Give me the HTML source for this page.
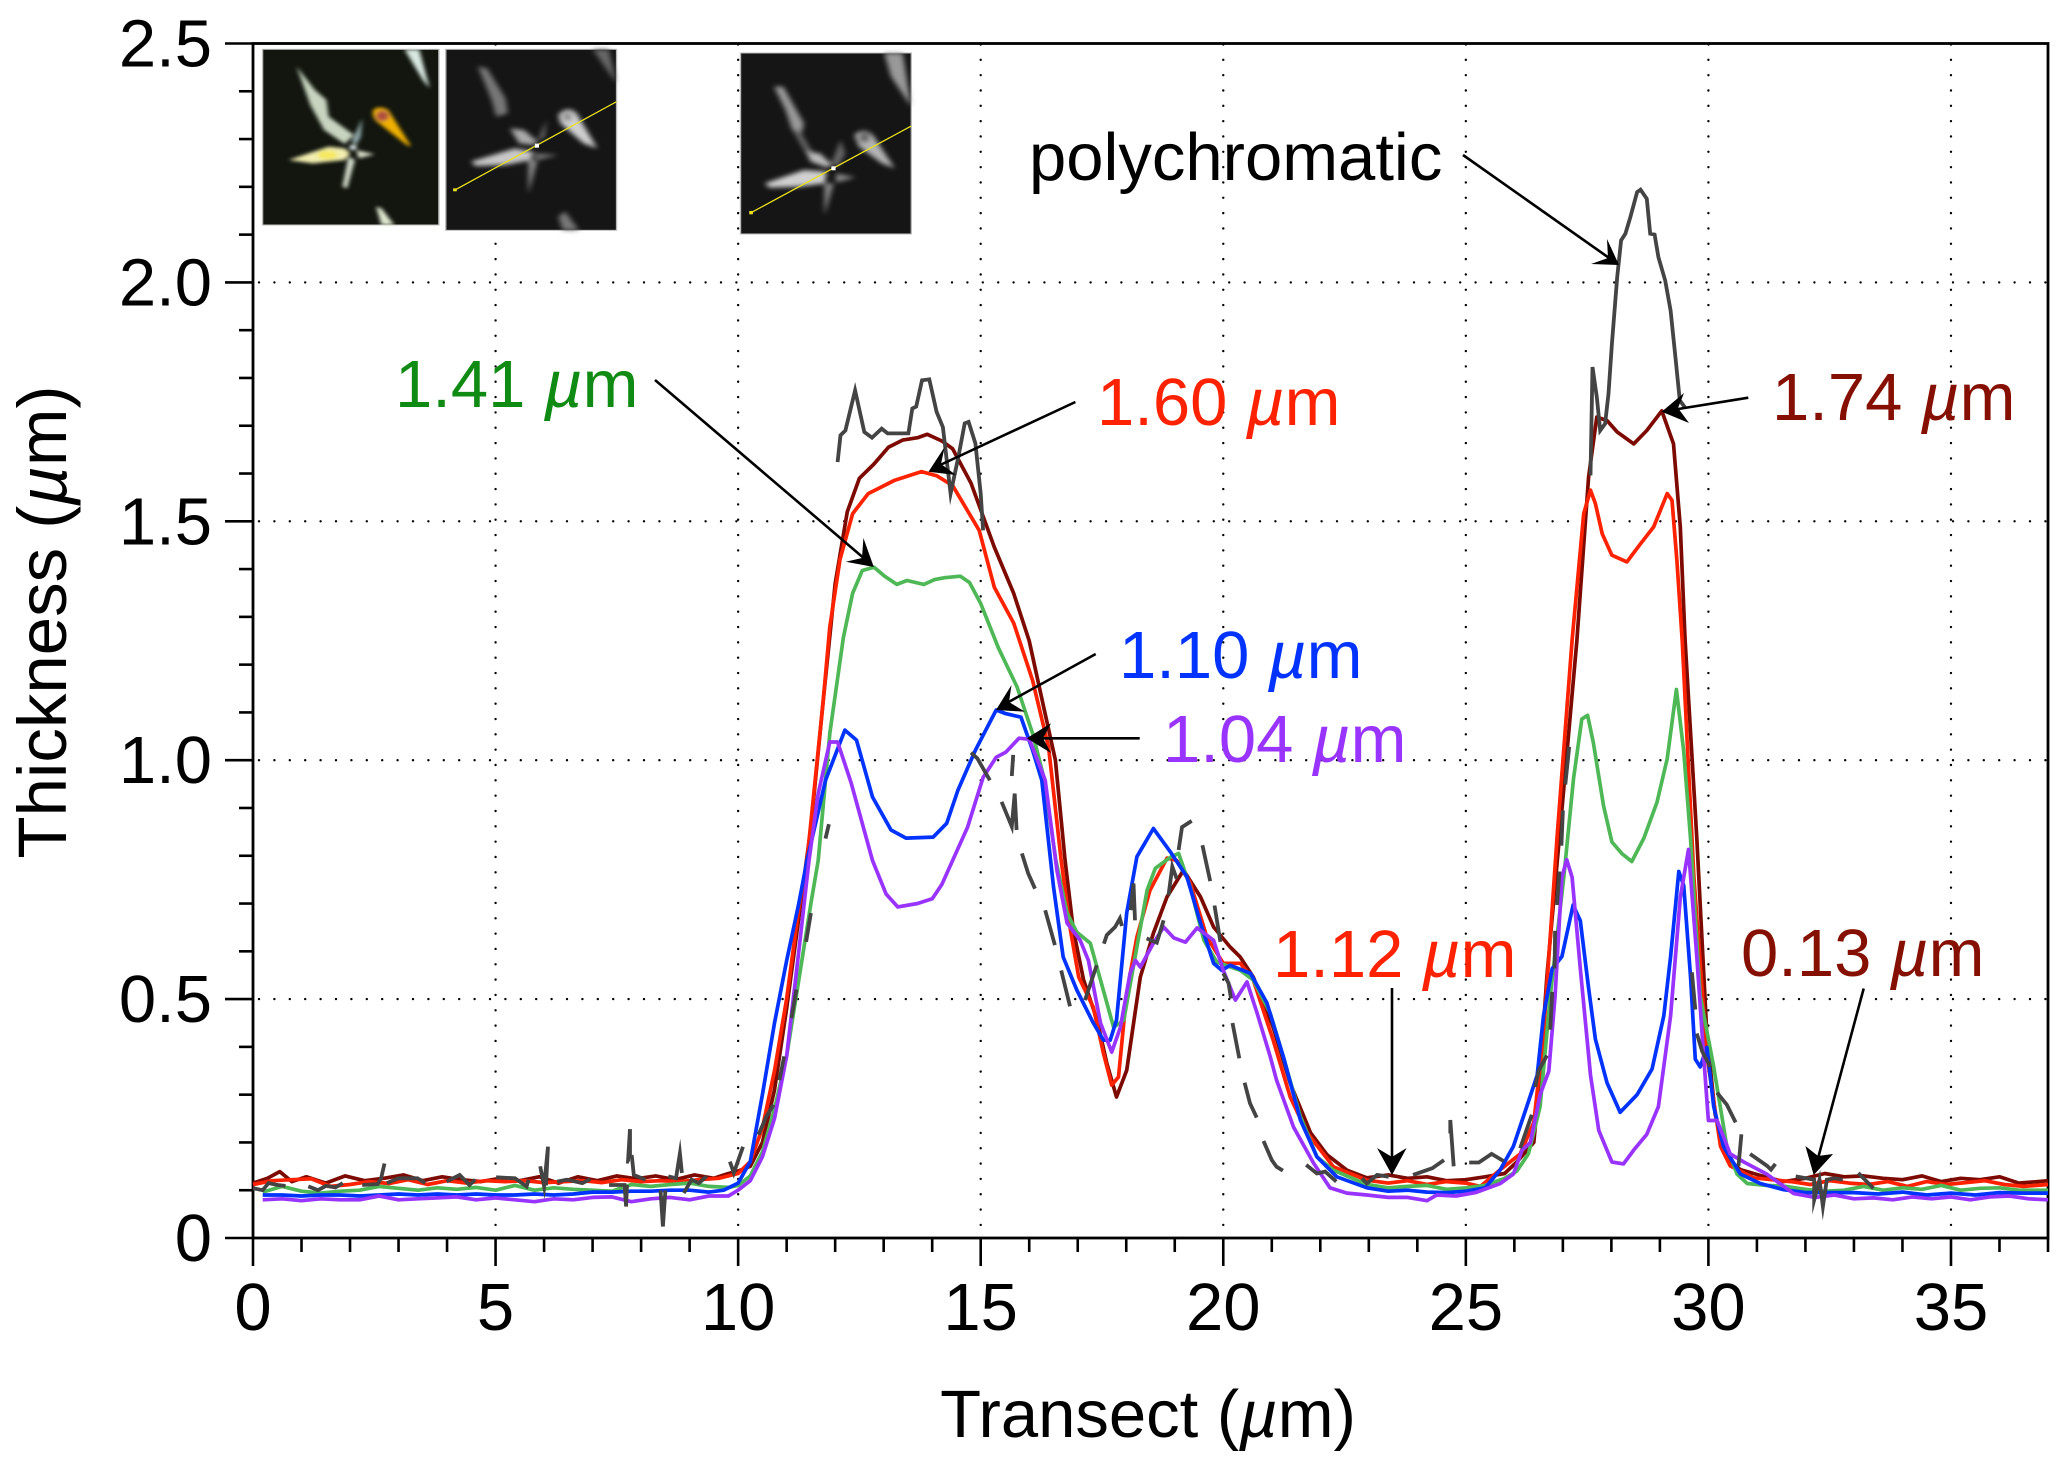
<!DOCTYPE html>
<html lang="en">
<head>
<meta charset="utf-8">
<title>Thickness along transect</title>
<style>
html,body{margin:0;padding:0;background:#fff;}
svg{display:block;}
text{font-family:"Liberation Sans",sans-serif;font-size:67px;}
</style>
</head>
<body>
<svg id="chart" xmlns="http://www.w3.org/2000/svg" width="2067" height="1469" viewBox="0 0 2067 1469">
  <defs>
    <filter id="blur-colour" x="-20%" y="-20%" width="140%" height="140%"><feGaussianBlur stdDeviation="4.5 5.5"/></filter>
    <filter id="blur-grey" x="-20%" y="-20%" width="140%" height="140%"><feGaussianBlur stdDeviation="6 7"/></filter>
  </defs>
  <rect width="2067" height="1469" fill="#fff"/>
  <g id="grid"></g>
  <g id="axes"></g>
  <g id="series"></g>

  <g transform="translate(230,20) scale(0.4591,0.3333)">
    <g>
      <rect x="71" y="88" width="384" height="527" fill="#12160f" stroke="#bbb" stroke-width="3"/>
      <g filter="url(#blur-colour)">
        <path d="M145,140 L185,210 L210,240 L215,290 L270,345 L250,372 L205,330 L175,255 Z" fill="#c8d4c0"/>
        <path d="M128,420 L215,380 L250,385 L262,400 L250,420 L180,430 Z" fill="#f2eeb0"/>
        <ellipse cx="212" cy="405" rx="22" ry="14" fill="#f5e860"/>
        <path d="M275,390 L315,403 L280,415 Z" fill="#d8dcc8"/>
        <path d="M258,410 L272,420 L255,505 L245,500 Z" fill="#d8e0d0"/>
        <path d="M265,365 L288,295 L285,350 L275,375 Z" fill="#8fa8a8"/>
        <path d="M380,88 L412,88 L435,205 L420,180 Z" fill="#d8e8e0"/>
        <path d="M318,560 L330,565 L358,615 L330,615 Z" fill="#e0e8d0"/>
        <path d="M312,270 Q325,255 345,270 L395,380 L385,375 L320,305 Q308,290 312,270 Z" fill="#f0b000"/>
        <ellipse cx="332" cy="288" rx="14" ry="16" fill="#b05040"/>
        <circle cx="268" cy="382" r="8" fill="#dfeeee"/>
      </g>
    </g>
    <g>
      <rect x="470" y="88" width="372" height="543" fill="#151515" stroke="#bbb" stroke-width="3"/>
      <g filter="url(#blur-grey)">
        <path d="M540,140 L560,145 L600,235 L605,280 L580,290 L570,240 Z" fill="#777"/>
        <path d="M610,325 L640,330 L670,365 L660,375 L630,370 Z" fill="#aaa"/>
        <path d="M525,425 L620,385 L660,395 L655,420 L600,435 L535,438 Z" fill="#c8c8c8"/>
        <path d="M660,400 L715,405 L670,420 Z" fill="#777"/>
        <path d="M650,420 L670,420 L650,520 Z" fill="#888"/>
        <path d="M670,365 L690,300 L685,350 Z" fill="#777"/>
        <path d="M715,285 Q735,255 755,280 L800,385 L770,370 L720,310 Z" fill="#d0d0d0"/>
        <ellipse cx="735" cy="290" rx="10" ry="13" fill="#888"/>
        <path d="M790,88 L825,88 L842,190 Z" fill="#666"/>
        <path d="M715,590 L730,575 L760,631 L725,631 Z" fill="#777"/>
      </g>
      <line x1="490" y1="510" x2="842" y2="245" stroke="#e8e020" stroke-width="3.5"/>
      <rect x="486" y="505" width="8" height="9" fill="#e8e020"/>
      <rect x="664" y="371" width="9" height="12" fill="#fff"/>
    </g>
    <g>
      <rect x="1112" y="99" width="372" height="543" fill="#151515" stroke="#bbb" stroke-width="3"/>
      <g filter="url(#blur-grey)">
        <path d="M1185,200 L1205,200 L1250,310 L1245,340 L1225,330 L1210,270 Z" fill="#999"/>
        <path d="M1225,330 L1240,330 L1270,400 L1255,400 Z" fill="#666"/>
        <path d="M1255,395 L1285,400 L1312,435 L1300,442 L1265,425 Z" fill="#bbb"/>
        <path d="M1165,490 L1250,450 L1300,455 L1295,490 L1240,500 L1175,503 Z" fill="#d0d0d0"/>
        <path d="M1320,460 L1362,472 L1320,488 Z" fill="#888"/>
        <path d="M1295,490 L1315,490 L1295,585 Z" fill="#888"/>
        <path d="M1310,430 L1330,360 L1340,400 L1325,440 Z" fill="#666"/>
        <path d="M1360,345 Q1380,320 1400,345 L1448,445 L1420,430 L1370,380 Z" fill="#b4b4b4"/>
        <ellipse cx="1382" cy="352" rx="12" ry="16" fill="#666"/>
        <path d="M1425,99 L1465,99 L1484,260 L1440,170 Z" fill="#999"/>
      </g>
      <line x1="1135" y1="578" x2="1484" y2="318" stroke="#e8e020" stroke-width="3.5"/>
      <rect x="1131" y="573" width="8" height="10" fill="#e8e020"/>
      <rect x="1310" y="439" width="9" height="12" fill="#fff"/>
    </g>
  </g>

  <g id="annotations">
    <g>
      <text x="1029" y="180" fill="#000">polychromatic</text>
      <line x1="1463" y1="155" x2="1612" y2="260" stroke="#000" stroke-width="2.6"/>
      <polygon points="1619,265 1607,239 1608,258 1591,264" fill="#000"/>
    </g>
    <g>
      <text x="395" y="407" fill="#0f8a12">1.41 <tspan font-style="italic">µ</tspan>m</text>
      <line x1="655" y1="380" x2="866" y2="560" stroke="#000" stroke-width="2.6"/>
      <polygon points="873.8,567 863.4,538 862,558 845.8,561.7" fill="#000"/>
    </g>
    <g>
      <text x="1097" y="425" fill="#ff2200">1.60 <tspan font-style="italic">µ</tspan>m</text>
      <line x1="1075.4" y1="402" x2="938" y2="466" stroke="#000" stroke-width="2.6"/>
      <polygon points="928.5,471.7 944.6,447 941,464 956,475" fill="#000"/>
    </g>
    <g>
      <text x="1119" y="678" fill="#0033ff">1.10 <tspan font-style="italic">µ</tspan>m</text>
      <line x1="1095.7" y1="654" x2="1005" y2="704" stroke="#000" stroke-width="2.6"/>
      <polygon points="996,710 1011.5,685 1009,702 1025,711.7" fill="#000"/>
    </g>
    <g>
      <text x="1163" y="762" fill="#9933ff">1.04 <tspan font-style="italic">µ</tspan>m</text>
      <line x1="1139.7" y1="738.3" x2="1040" y2="738.3" stroke="#000" stroke-width="2.6"/>
      <polygon points="1026.8,738.3 1051,723.3 1043,738.3 1051,753" fill="#000"/>
    </g>
    <g>
      <text x="1772" y="420" fill="#850f00">1.74 <tspan font-style="italic">µ</tspan>m</text>
      <line x1="1748.3" y1="397.7" x2="1672" y2="410" stroke="#000" stroke-width="2.6"/>
      <polygon points="1661.7,411.7 1684,393 1678,408 1689,423" fill="#000"/>
    </g>
    <g>
      <text x="1273" y="977" fill="#ff2200">1.12 <tspan font-style="italic">µ</tspan>m</text>
      <line x1="1392" y1="988" x2="1392" y2="1162" stroke="#000" stroke-width="2.6"/>
      <polygon points="1392,1175 1377,1148 1392,1157 1406.6,1148" fill="#000"/>
    </g>
    <g>
      <text x="1741" y="976" fill="#850f00">0.13 <tspan font-style="italic">µ</tspan>m</text>
      <line x1="1863.7" y1="988.5" x2="1817" y2="1162" stroke="#000" stroke-width="2.6"/>
      <polygon points="1813.7,1175 1805.4,1146 1818,1156 1833,1154" fill="#000"/>
    </g>
  </g>
</svg>
<script>
// Axis tick labels
const xTickLabels = ["0", "5", "10", "15", "20", "25", "30", "35"];
const xTickValues = [0, 5, 10, 15, 20, 25, 30, 35];
const yTickLabels = ["0", "0.5", "1.0", "1.5", "2.0", "2.5"];
const yTickValues = [0, 0.5, 1.0, 1.5, 2.0, 2.5];
const xDomain = [0, 37];
const yDomain = [0, 2.5];

// 1.74 um series
const x174 = [0,.3,.55,.8,1.1,1.5,1.9,2.3,2.7,3.1,3.5,3.9,4.3,4.7,5.1,5.5,5.9,6.3,6.7,7.1,7.5,7.9,8.3,8.7,9.1,9.5,9.8,10,
10.25,10.5,10.75,11,11.25,11.5,11.75,12,12.25,12.5,12.8,13.1,13.39,13.7,13.9,14.2,14.42,14.8,15.28,15.68,16,16.3,16.54,16.74,16.91,17.12,17.4,17.6,17.8,18.01,18.29,18.56,18.84,19.18,19.53,19.8,20.14,20.35,20.62,21.03,21.38,21.8,22.14,22.55,22.96,23.4,23.8,24.2,24.6,25,25.4,25.8,26.05,
26.4,26.53,26.67,27,27.29,27.53,27.7,27.91,28.12,28.46,28.73,29.04,29.28,29.42,29.52,29.76,29.97,30.14,30.38,30.66,31.1,31.55,32,32.4,32.8,33.2,33.6,34,34.4,34.8,35.2,35.6,36,36.4,36.8,37];
const y174 = [.115,.125,.139,.118,.128,.115,.13,.12,.125,.132,.12,.128,.122,.118,.125,.12,.128,.115,.128,.12,.13,.124,.13,.122,.132,.125,.135,.14,
.15,.2,.31,.48,.67,.86,1.12,1.37,1.52,1.59,1.62,1.655,1.67,1.675,1.682,1.668,1.652,1.58,1.446,1.349,1.25,1.11,1.0,.79,.644,.54,.456,.366,.295,.351,.546,.638,.714,.77,.714,.651,.609,.588,.546,.441,.324,.22,.174,.142,.126,.132,.125,.128,.12,.122,.128,.135,.159,
.2,.341,.548,.92,1.251,1.593,1.718,1.711,1.687,1.662,1.69,1.731,1.662,1.488,1.251,.837,.424,.258,.167,.143,.13,.118,.125,.135,.128,.13,.125,.122,.13,.118,.125,.122,.128,.115,.118,.12];

// 1.60 um series
const x160 = [0,.4,.8,1.2,1.6,2,2.4,2.8,3.2,3.6,4,4.4,4.8,5.2,5.6,6,6.4,6.8,7.2,7.6,8,8.4,8.8,9.2,9.6,10,
10.25,10.5,10.75,11,11.25,11.42,11.5,11.75,11.89,12.1,12.36,12.68,13.23,13.78,14.1,14.42,14.97,15.28,15.68,16.07,16.4,16.66,16.85,17.02,17.32,17.53,17.7,17.84,18.01,18.22,18.49,18.84,19.04,19.32,19.66,20,20.35,20.62,21.03,21.38,21.73,22.27,22.96,23.4,23.8,24.2,24.6,25,25.3,25.71,26.12,
26.4,26.6,26.88,27.19,27.43,27.57,27.67,27.81,28.01,28.32,28.6,28.87,29.15,29.25,29.35,29.46,29.7,29.97,30.25,30.45,30.93,31.3,31.7,32.1,32.5,32.9,33.3,33.7,34.1,34.5,34.9,35.3,35.7,36.1,36.5,37];
const y160 = [.112,.12,.122,.124,.108,.112,.118,.114,.122,.112,.12,.115,.12,.118,.12,.116,.118,.12,.116,.122,.118,.12,.118,.122,.125,.135,
.16,.23,.35,.5,.69,.79,.87,1.12,1.279,1.42,1.516,1.558,1.586,1.604,1.595,1.575,1.481,1.362,1.287,1.167,1.027,.79,.644,.546,.483,.387,.32,.337,.513,.63,.728,.795,.79,.743,.63,.575,.575,.54,.414,.295,.22,.149,.121,.115,.12,.112,.118,.115,.108,.143,.176,
.242,.424,.837,1.251,1.516,1.565,1.537,1.474,1.429,1.415,1.453,1.488,1.558,1.544,1.418,1.251,.755,.382,.192,.151,.126,.122,.118,.112,.12,.115,.112,.118,.108,.118,.112,.116,.12,.112,.108,.112];

// 1.41 um series
const x141 = [.2,.6,1,1.4,1.8,2.2,2.6,3,3.4,3.8,4.2,4.6,5,5.4,5.8,6.2,6.6,7,7.4,7.8,8.2,8.6,9,9.4,9.8,10,
10.25,10.5,10.75,11,11.25,11.5,11.65,11.89,12.17,12.36,12.56,12.8,13.02,13.27,13.48,13.83,14.05,14.26,14.58,14.77,15,15.36,15.75,16.07,16.3,16.55,16.78,16.98,17.26,17.47,17.74,17.95,18.22,18.43,18.6,18.91,19.08,19.32,19.6,19.87,20.35,20.62,20.97,21.24,21.59,21.93,22.27,22.96,23.4,23.8,24.2,24.6,25,25.4,25.8,26.05,
26.29,26.53,26.74,27.02,27.22,27.39,27.51,27.63,27.84,28.01,28.22,28.42,28.67,28.94,29.15,29.34,29.49,29.63,29.83,30.11,30.38,30.59,30.8,31.2,31.6,32,32.4,32.8,33.2,33.6,34,34.4,34.8,35.2,35.6,36,36.4,37];
const y141 = [.096,.108,.098,.094,.098,.1,.108,.104,.1,.105,.102,.106,.1,.11,.1,.105,.102,.1,.098,.112,.108,.112,.115,.108,.106,.11,
.13,.18,.27,.38,.54,.7,.79,1.056,1.257,1.349,1.397,1.404,1.385,1.368,1.376,1.368,1.378,1.382,1.385,1.372,1.328,1.236,1.153,1.056,.964,.79,.68,.64,.617,.54,.441,.456,.609,.728,.774,.797,.805,.734,.623,.577,.56,.54,.47,.379,.254,.17,.142,.112,.105,.108,.11,.102,.105,.11,.125,.14,
.176,.275,.507,.755,.961,1.086,1.094,1.036,.904,.829,.804,.788,.837,.912,1.003,1.148,1.019,.837,.507,.358,.192,.134,.114,.11,.108,.102,.098,.1,.108,.1,.105,.102,.11,.1,.104,.105,.1,.1];

// 1.10 um series
const x110 = [.2,.6,1,1.4,1.8,2.2,2.6,3,3.4,3.8,4.2,4.6,5,5.4,5.8,6.2,6.6,7,7.4,7.8,8.2,8.6,9,9.4,9.7,10,
10.25,10.5,10.75,11,11.25,11.42,11.8,12.2,12.44,12.77,13.15,13.46,14.02,14.3,14.53,14.89,15.32,15.5,15.83,16.07,16.26,16.5,16.7,16.98,17.32,17.53,17.67,17.8,18.01,18.22,18.56,18.91,19.25,19.53,19.8,19.97,20.14,20.56,20.9,21.24,21.59,21.93,22.34,22.96,23.4,23.8,24.2,24.6,25,25.4,25.71,
25.98,26.23,26.47,26.6,26.78,26.98,27.21,27.36,27.53,27.67,27.91,28.18,28.53,28.84,29.08,29.22,29.39,29.49,29.63,29.73,29.83,29.97,30.11,30.31,30.66,31.07,31.55,32,32.5,33,33.5,34,34.5,35,35.5,36,36.5,37];
const y110 = [.09,.09,.088,.09,.09,.088,.09,.092,.09,.092,.09,.092,.09,.09,.092,.09,.092,.096,.096,.098,.098,.1,.1,.096,.1,.115,
.16,.3,.45,.58,.7,.79,.958,1.063,1.042,.923,.854,.837,.839,.868,.937,1.021,1.105,1.098,1.09,1.021,.958,.735,.588,.519,.45,.414,.414,.456,.68,.798,.857,.808,.756,.659,.575,.56,.571,.554,.492,.379,.247,.17,.128,.105,.098,.1,.096,.095,.098,.105,.143,
.192,.267,.341,.465,.564,.589,.697,.664,.523,.416,.325,.263,.3,.354,.465,.589,.767,.738,.548,.374,.358,.399,.275,.192,.134,.114,.101,.095,.095,.095,.092,.096,.09,.094,.09,.095,.094,.094];

// 1.04 um series
const x104 = [.2,.6,1,1.4,1.8,2.2,2.6,3,3.4,3.8,4.2,4.6,5,5.4,5.8,6.2,6.6,7,7.4,7.8,8.2,8.6,9,9.4,9.8,10,
10.25,10.5,10.75,11,11.25,11.46,11.65,11.89,12.05,12.33,12.77,13.05,13.29,13.7,14,14.2,14.42,14.73,15.05,15.32,15.52,15.79,16,16.23,16.33,16.57,16.78,17.05,17.22,17.47,17.7,17.88,18.08,18.19,18.29,18.56,18.77,18.98,19.22,19.46,19.8,20,20.25,20.49,20.7,20.97,21.1,21.45,21.86,22.2,22.55,22.96,23.4,23.8,24.2,24.4,24.8,25.2,25.71,
25.98,26.16,26.33,26.53,26.71,26.84,26.98,27.08,27.19,27.36,27.57,27.74,28.01,28.25,28.46,28.73,28.97,29.22,29.42,29.59,29.76,29.9,30,30.18,30.45,30.73,31.2,31.76,32.2,32.6,33,33.4,33.8,34.2,34.6,35,35.4,35.8,36.2,36.6,37];
const y104 = [.08,.082,.078,.082,.08,.08,.088,.08,.082,.084,.086,.08,.084,.08,.076,.082,.08,.085,.086,.076,.082,.085,.08,.088,.088,.1,
.12,.17,.25,.38,.6,.79,.93,1.038,1.038,.952,.79,.72,.693,.7,.71,.74,.79,.86,.964,1.006,1.017,1.046,1.044,.985,.958,.77,.659,.623,.581,.45,.389,.441,.554,.581,.567,.617,.651,.628,.619,.649,.623,.56,.498,.536,.47,.379,.33,.232,.157,.105,.094,.09,.085,.085,.078,.09,.088,.095,.114,
.134,.184,.2,.3,.349,.507,.755,.792,.755,.564,.341,.225,.159,.155,.184,.217,.275,.465,.713,.813,.589,.382,.246,.246,.176,.159,.134,.093,.085,.09,.082,.084,.08,.086,.082,.086,.08,.086,.088,.082,.08];

// Polychromatic series (null marks a gap in the broken trace)
const xPoly = [0,.2,.32,.51,.67,null,1.14,1.34,1.5,1.7,1.85,null,2.25,2.57,2.64,2.71,null,2.76,3,3.39,3.55,null,3.99,4.26,4.46,4.58,null,5.01,5.4,5.64,5.68,null,5.92,6,6.08,6.04,null,6.27,6.47,6.79,6.95,null,7.34,7.66,7.69,7.71,null,7.75,7.73,7.77,7.77,7.81,7.85,8.09,null,8.4,8.45,8.5,null,8.56,8.72,8.8,8.84,null,8.88,9.04,9.19,9.35,null,9.83,9.91,10.1,null,10.42,10.58,10.73,null,10.85,10.95,null,11.1,11.2,null,11.4,11.5,null,11.8,11.87,null,
12.05,12.11,12.21,12.41,12.6,12.76,12.96,13.08,13.51,13.59,13.67,13.79,13.94,14.09,14.22,14.38,14.54,14.67,14.75,14.89,15,15.05,null,14.8,14.93,15.19,null,15.67,15.64,null,15.43,15.64,15.7,15.74,null,15.85,15.98,16.12,null,16.33,16.53,null,16.66,16.84,null,17.15,17.39,null,17.54,17.6,17.77,17.87,17.91,null,18.09,18.15,18.18,null,18.42,18.63,18.77,null,18.87,18.95,19.04,null,19.08,19.15,19.35,null,19.57,19.73,null,19.82,19.94,null,20,20.11,20.16,null,20.19,20.33,null,20.44,20.55,20.69,null,20.83,21,21.1,21.23,null,21.71,21.93,22.1,22.33,null,22.86,22.96,23.17,23.41,null,23.91,24.31,24.55,null,24.75,24.68,24.68,null,25.07,25.27,25.53,25.78,null,26.12,26.36,null,26.43,26.5,26.67,null,26.74,26.78,null,26.83,26.84,null,26.88,26.93,null,26.97,27,null,27.05,27.13,null,
27.57,27.61,27.7,27.77,27.87,27.94,28.01,28.12,28.2,28.29,28.39,28.53,28.6,28.73,28.8,28.89,28.97,29.11,29.22,29.32,29.41,29.52,null,29.66,29.73,null,29.76,29.87,30.04,null,30.18,30.38,30.56,null,30.68,30.62,null,30.86,31.21,31.29,31.38,null,31.8,32.18,32.18,32.29,32.36,32.44,32.59,32.77,null,33.09,33.4];
const yPoly = [.104,.1,.115,.111,.109,null,.108,.1,.109,.106,.115,null,.111,.113,.125,.156,null,.115,.125,.125,.115,null,.118,.132,.111,.122,null,.127,.125,.108,.122,null,.15,.108,.191,.11,null,.118,.122,.115,.123,null,.111,.111,.066,.111,null,.16,.16,.228,.17,.17,.132,.122,null,.1,.024,.1,null,.129,.125,.177,.136,null,.094,.122,.115,.129,null,.16,.136,.191,null,.216,.254,.279,null,.33,.38,null,.46,.52,null,.62,.68,null,.836,.866,null,
1.624,1.68,1.69,1.774,1.687,1.675,1.694,1.684,1.684,1.736,1.74,1.795,1.797,1.729,1.697,1.558,1.635,1.705,1.708,1.663,1.558,1.481,null,1.016,1.004,.958,null,1.011,.967,null,.913,.861,.93,.854,null,.805,.763,.731,null,.686,.613,null,.56,.485,null,.498,.571,null,.616,.634,.651,.669,.653,null,.686,.742,.665,null,.627,.618,.665,null,.717,.777,.752,null,.812,.86,.873,null,.822,.747,null,.696,.62,null,.554,.533,.501,null,.45,.376,null,.325,.282,.252,null,.203,.163,.149,.141,null,.153,.135,.139,.118,null,.125,.114,.132,.128,null,.132,.146,.163,null,.15,.247,.219,null,.158,.158,.176,.161,null,.188,.258,null,.316,.35,.382,null,.436,.515,null,.564,.643,null,.697,.767,null,.821,.895,null,.949,1.028,null,
1.596,1.823,1.76,1.69,1.704,1.767,1.871,2.011,2.088,2.102,2.136,2.189,2.194,2.175,2.102,2.1,2.053,2.004,1.941,1.844,1.753,1.738,null,.556,.478,null,.428,.391,.358,null,.304,.279,.242,null,.217,.151,null,.176,.151,.143,.155,null,.129,.122,.08,.122,.066,.122,.125,.122,null,.136,.104];

const plotLeft = 253, plotRight = 2048, plotTop = 43.5, plotBottom = 1238;
const scaleX = v => plotLeft + (v - xDomain[0]) / (xDomain[1] - xDomain[0]) * (plotRight - plotLeft);
const scaleY = v => plotBottom - (v - yDomain[0]) / (yDomain[1] - yDomain[0]) * (plotBottom - plotTop);
const NS = "http://www.w3.org/2000/svg";
const gridGroup = document.getElementById("grid");
const axesGroup = document.getElementById("axes");
const seriesGroup = document.getElementById("series");

function makeLine(x1, y1, x2, y2, width) {
  const l = document.createElementNS(NS, "line");
  l.setAttribute("x1", x1);
  l.setAttribute("y1", y1);
  l.setAttribute("x2", x2);
  l.setAttribute("y2", y2);
  l.setAttribute("stroke", "#000");
  l.setAttribute("stroke-width", width);
  return l;
}

// dotted grid
xTickValues.slice(1).forEach(v => {
  const l = makeLine(scaleX(v), plotTop + 1, scaleX(v), plotBottom, 2.4);
  l.setAttribute("stroke-dasharray", "0 15.33");
  l.setAttribute("stroke-linecap", "round");
  
  
  gridGroup.appendChild(l);
});
yTickValues.slice(1, -1).forEach(v => {
  const l = makeLine(plotLeft + 6, scaleY(v), plotRight, scaleY(v), 2.4);
  l.setAttribute("stroke-dasharray", "0 15.4");
  l.setAttribute("stroke-linecap", "round");
  
  
  gridGroup.appendChild(l);
});

// minor and major x ticks
for (let v = xDomain[0]; v <= xDomain[1]; v += 1) {
  const isMajor = xTickValues.includes(v);
  const t = makeLine(scaleX(v), plotBottom, scaleX(v), plotBottom + (isMajor ? 28 : 14), 2.6);
  
  
  axesGroup.appendChild(t);
}
// minor and major y ticks
for (let i = 0; i <= 25; i += 1) {
  const v = i / 10;
  const isMajor = i % 5 === 0;
  const t = makeLine(plotLeft - (isMajor ? 28 : 14), scaleY(v), plotLeft, scaleY(v), 2.6);
  
  
  axesGroup.appendChild(t);
}
// frame
const frame = document.createElementNS(NS, "rect");
frame.setAttribute("x", plotLeft);
frame.setAttribute("y", plotTop);
frame.setAttribute("width", plotRight - plotLeft);
frame.setAttribute("height", plotBottom - plotTop);
frame.setAttribute("fill", "none");
frame.setAttribute("stroke", "#000");
frame.setAttribute("stroke-width", "2.8");


axesGroup.appendChild(frame);

// tick labels
xTickValues.forEach((v, i) => {
  const t = document.createElementNS(NS, "text");
  t.setAttribute("x", scaleX(v));
  t.setAttribute("y", 1330);
  t.setAttribute("text-anchor", "middle");
  t.textContent = xTickLabels[i];
  
  
  axesGroup.appendChild(t);
});
yTickValues.forEach((v, i) => {
  const t = document.createElementNS(NS, "text");
  t.setAttribute("x", 212);
  t.setAttribute("y", scaleY(v) + 23);
  t.setAttribute("text-anchor", "end");
  t.textContent = yTickLabels[i];
  
  
  axesGroup.appendChild(t);
});

// axis titles
const xTitle = document.createElementNS(NS, "text");
xTitle.setAttribute("x", 1148);
xTitle.setAttribute("y", 1437);
xTitle.setAttribute("text-anchor", "middle");
xTitle.innerHTML = 'Transect (<tspan font-style="italic">µ</tspan>m)';


axesGroup.appendChild(xTitle);
const yTitle = document.createElementNS(NS, "text");
yTitle.setAttribute("transform", "translate(66,622) rotate(-90)");
yTitle.setAttribute("text-anchor", "middle");
yTitle.setAttribute("style", "font-size:69px");
yTitle.innerHTML = 'Thickness (<tspan font-style="italic">µ</tspan>m)';


axesGroup.appendChild(yTitle);

// series paths
function buildPath(xs, ys) {
  let d = "", pen = false;
  const n = Math.min(xs.length, ys.length);
  for (let i = 0; i < n; i += 1) {
    if (xs[i] === null || ys[i] === null) { pen = false; continue; }
    d += (pen ? "L" : "M") + scaleX(xs[i]).toFixed(1) + "," + scaleY(ys[i]).toFixed(1);
    pen = true;
  }
  return d;
}
function makeSeries(xs, ys, colour, width, join) {
  const p = document.createElementNS(NS, "path");
  p.setAttribute("d", buildPath(xs, ys));
  p.setAttribute("fill", "none");
  p.setAttribute("stroke", colour);
  p.setAttribute("stroke-width", width);
  p.setAttribute("stroke-linejoin", join);
  p.setAttribute("stroke-miterlimit", "12");
  seriesGroup.appendChild(p);
  return p;
}
const line174 = makeSeries(x174, y174, "#7d0a00", 3.7, "round");


const line160 = makeSeries(x160, y160, "#ff2200", 3.7, "round");


const line141 = makeSeries(x141, y141, "#4fb856", 3.7, "round");


const line110 = makeSeries(x110, y110, "#0033ff", 3.7, "round");


const line104 = makeSeries(x104, y104, "#9933ff", 3.7, "round");


const linePoly = makeSeries(xPoly, yPoly, "#444444", 3.8, "miter");


</script>
</body>
</html>
